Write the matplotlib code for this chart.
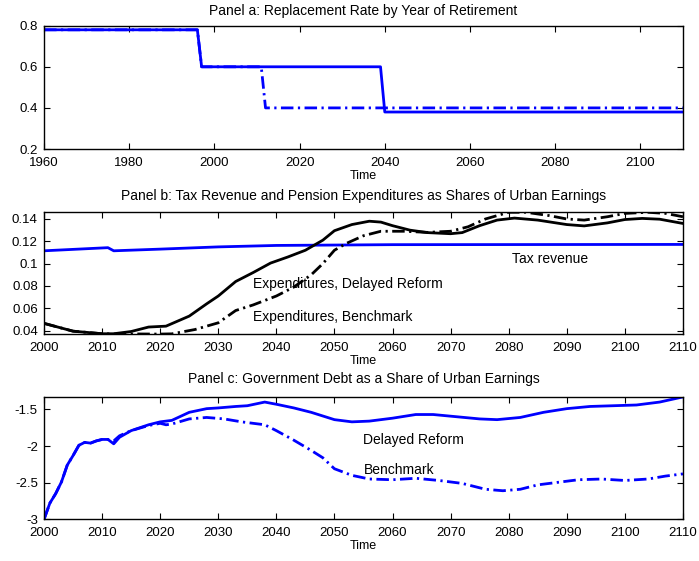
import matplotlib
matplotlib.use("Agg")
from matplotlib import pyplot as plt
from matplotlib.ticker import FormatStrFormatter

plt.rcParams['font.family'] = ['Liberation Sans', 'DejaVu Sans']
plt.rcParams['axes.unicode_minus'] = False

# panel a: replacement rate (step points)
rr_years_delayed = [1960, 1996, 1997, 2039, 2040, 2110]
rr_delayed = [0.78, 0.78, 0.60, 0.60, 0.38, 0.38]
rr_years_bench = [1960, 1996, 1997, 2011, 2012, 2110]
rr_bench = [0.78, 0.78, 0.60, 0.60, 0.40, 0.40]

# panel b: tax revenue and expenditures
tax_years = [2000, 2011, 2012, 2020, 2030, 2040, 2060, 2110]
tax_rev = [0.1115, 0.1143, 0.1115, 0.1130, 0.1150, 0.1163, 0.1170, 0.1172]

exp_years_delayed = [2000, 2005, 2010, 2012, 2015, 2018, 2021, 2025, 2028, 2030, 2033, 2036,
                     2039, 2042, 2045, 2048, 2050, 2053, 2056, 2058, 2060, 2063, 2066, 2070,
                     2072, 2075, 2078, 2081, 2085, 2090, 2093, 2097, 2100, 2103, 2106, 2110]
exp_delayed = [0.0465, 0.0395, 0.0372, 0.0372, 0.0392, 0.0432, 0.0440, 0.0530, 0.0640, 0.0710,
               0.0840, 0.0920, 0.1005, 0.1060, 0.1120, 0.1210, 0.1295, 0.1350, 0.1380, 0.1372,
               0.1340, 0.1300, 0.1278, 0.1268, 0.1278, 0.1340, 0.1390, 0.1408, 0.1390, 0.1350,
               0.1338, 0.1365, 0.1395, 0.1405, 0.1398, 0.1360]

exp_years_bench = [2000, 2005, 2010, 2012, 2016, 2020, 2022, 2026, 2030, 2033, 2036, 2040,
                   2043, 2046, 2048, 2050, 2052, 2055, 2058, 2062, 2066, 2070, 2073, 2076,
                   2080, 2083, 2087, 2090, 2093, 2097, 2100, 2104, 2107, 2110]
exp_bench = [0.0465, 0.0395, 0.0372, 0.0370, 0.0370, 0.0369, 0.0371, 0.0410, 0.0470, 0.0580,
             0.0630, 0.0710, 0.0790, 0.0900, 0.1000, 0.1120, 0.1180, 0.1250, 0.1290, 0.1290,
             0.1280, 0.1290, 0.1330, 0.1400, 0.1460, 0.1460, 0.1430, 0.1400, 0.1390, 0.1420,
             0.1450, 0.1460, 0.1450, 0.1420]

# panel c: government debt
debt_years_delayed = [2000, 2001, 2002, 2003, 2004, 2005, 2006, 2007, 2008, 2009, 2010, 2011,
                      2012, 2013, 2015, 2018, 2020, 2022, 2025, 2028, 2030, 2033, 2035, 2038,
                      2040, 2043, 2046, 2050, 2053, 2056, 2060, 2064, 2067, 2071, 2075, 2078,
                      2082, 2086, 2090, 2094, 2098, 2102, 2106, 2110]
debt_delayed = [-3.00, -2.78, -2.65, -2.49, -2.26, -2.13, -1.99, -1.95, -1.96, -1.93, -1.91, -1.91,
                -1.97, -1.88, -1.79, -1.71, -1.67, -1.65, -1.54, -1.49, -1.48, -1.46, -1.45, -1.40,
                -1.43, -1.48, -1.54, -1.64, -1.67, -1.66, -1.62, -1.57, -1.57, -1.60, -1.63, -1.64,
                -1.61, -1.54, -1.49, -1.46, -1.45, -1.44, -1.40, -1.33]

debt_years_bench = [2000, 2001, 2002, 2003, 2004, 2005, 2006, 2007, 2008, 2009, 2010, 2011,
                    2012, 2013, 2015, 2018, 2020, 2021, 2022, 2025, 2028, 2031, 2034, 2038,
                    2040, 2043, 2046, 2048, 2050, 2053, 2056, 2060, 2064, 2068, 2072, 2076,
                    2079, 2082, 2085, 2088, 2092, 2096, 2100, 2104, 2107, 2110]
debt_bench = [-3.00, -2.78, -2.65, -2.49, -2.26, -2.13, -1.99, -1.95, -1.96, -1.93, -1.91, -1.91,
              -1.93, -1.86, -1.79, -1.72, -1.69, -1.71, -1.70, -1.63, -1.61, -1.63, -1.67, -1.71,
              -1.79, -1.92, -2.06, -2.16, -2.31, -2.40, -2.45, -2.46, -2.44, -2.47, -2.51, -2.59,
              -2.61, -2.59, -2.53, -2.50, -2.46, -2.45, -2.47, -2.45, -2.41, -2.38]

blue = (0, 0, 1)
dashdot = (0, (4.5, 1.6, 0.8, 1.6))
fs = 10

fig = plt.figure(figsize=(6.99, 5.61), dpi=100)
ax1 = fig.add_axes([0.063, 0.7344, 0.914, 0.2198])
ax2 = fig.add_axes([0.063, 0.4041, 0.914, 0.2175])
ax3 = fig.add_axes([0.063, 0.0743, 0.914, 0.2175])

ax1.plot(rr_years_bench, rr_bench, color=blue, lw=2, linestyle=dashdot)
ax1.plot(rr_years_delayed, rr_delayed, color=blue, lw=2)
ax1.set_xlim(1960, 2110)
ax1.set_ylim(0.2, 0.8)
ax1.set_xticks(range(1960, 2101, 20))
ax1.set_yticks([0.2, 0.4, 0.6, 0.8])
ax1.set_title("Panel a: Replacement Rate by Year of Retirement", fontsize=fs, pad=7.5)

ax2.plot(tax_years, tax_rev, color=blue, lw=2)
ax2.plot(exp_years_bench, exp_bench, color='black', lw=2, linestyle=dashdot)
ax2.plot(exp_years_delayed, exp_delayed, color='black', lw=2)
ax2.set_xlim(2000, 2110)
ax2.set_ylim(0.0367, 0.146)
ax2.set_xticks(range(2000, 2111, 10))
ax2.set_yticks([0.04, 0.06, 0.08, 0.1, 0.12, 0.14])
ax2.yaxis.set_major_formatter(FormatStrFormatter('%g'))
ax2.set_title("Panel b: Tax Revenue and Pension Expenditures as Shares of Urban Earnings",
              fontsize=fs, pad=9)
ax2.text(2080.5, 0.1042, "Tax revenue", fontsize=fs, va='center')
ax2.text(2036, 0.082, "Expenditures, Delayed Reform", fontsize=fs, va='center')
ax2.text(2036, 0.052, "Expenditures, Benchmark", fontsize=fs, va='center')

ax3.plot(debt_years_bench, debt_bench, color=blue, lw=2, linestyle=dashdot)
ax3.plot(debt_years_delayed, debt_delayed, color=blue, lw=2)
ax3.set_xlim(2000, 2110)
ax3.set_ylim(-3, -1.335)
ax3.set_xticks(range(2000, 2111, 10))
ax3.set_yticks([-3, -2.5, -2, -1.5])
ax3.yaxis.set_major_formatter(FormatStrFormatter('%g'))
ax3.set_title("Panel c: Government Debt as a Share of Urban Earnings", fontsize=fs, pad=10)
ax3.text(2055, -1.92, "Delayed Reform", fontsize=fs, va='center')
ax3.text(2055, -2.33, "Benchmark", fontsize=fs, va='center')

for ax in [ax1, ax2, ax3]:
    ax.tick_params(direction='in', top=True, right=True, length=4, width=0.8, labelsize=9.5)
    ax.tick_params(axis='x', pad=5.5)
    ax.tick_params(axis='y', pad=4.5)
    ax.set_xlabel("Time", fontsize=9, labelpad=1)
    for s in ax.spines.values():
        s.set_linewidth(1.0)

fig.savefig("out.png", dpi=100)
